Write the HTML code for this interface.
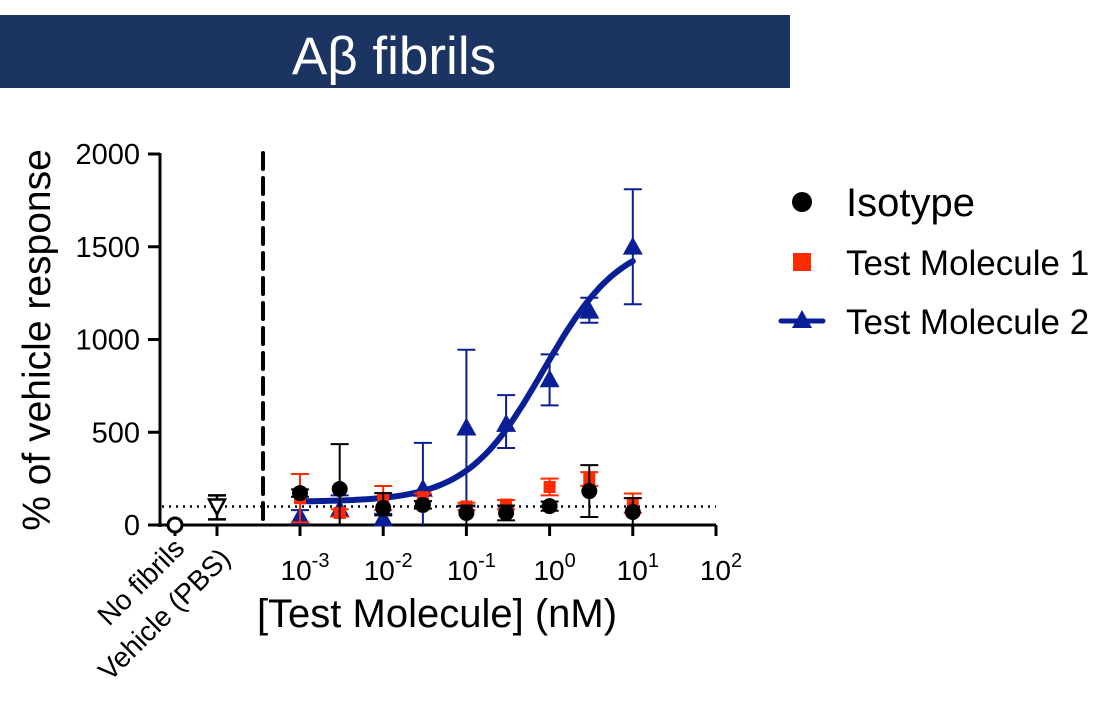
<!DOCTYPE html>
<html><head><meta charset="utf-8"><style>
body{margin:0;background:#fff;}
svg{display:block;font-family:"Liberation Sans",Arial,sans-serif;}
</style></head><body>
<svg id="chart" width="1100" height="702" viewBox="0 0 1100 702" xmlns="http://www.w3.org/2000/svg">
<rect x="0" y="15" width="790" height="73" fill="#1c3461"/>
<text x="394" y="74" font-size="53" fill="#fff" text-anchor="middle">Aβ fibrils</text>
<g id="plot"></g>
<text transform="translate(50,340) rotate(-90)" font-size="39" text-anchor="middle">% of vehicle response</text>
<text x="437" y="627" font-size="40" text-anchor="middle">[Test Molecule] (nM)</text>
<text transform="translate(186,550) rotate(-45)" font-size="28" text-anchor="end">No fibrils</text>
<text transform="translate(232,560) rotate(-45)" font-size="28" text-anchor="end">Vehicle (PBS)</text>
<g>
<circle cx="802" cy="202" r="10" fill="#000"/>
<text x="846" y="216" font-size="40">Isotype</text>
<rect x="793" y="253" width="18" height="18" fill="#ff2a00"/>
<text x="846" y="275" font-size="35">Test Molecule 1</text>
<line x1="781" y1="321" x2="823" y2="321" stroke="#0a1f96" stroke-width="5" stroke-linecap="round"/>
<polygon points="802,310 792,328 812,328" fill="#0a1f96"/>
<text x="846" y="334" font-size="35">Test Molecule 2</text>
</g>
</svg>
<script>
const concentrations=[0.001,0.003,0.01,0.03,0.1,0.3,1,3,10];
const isoMean=[172,194,92,108,65,65,102,183,70];
const isoErrUp=[20,242,80,20,40,40,25,140,75];
const isoErrDn=[20,194,40,20,65,40,25,140,70];
const tm1Mean=[145,65,145,150,100,110,205,248,118];
const tm1Err=[130,20,65,20,20,25,45,37,52];
const tm2Mean=[40,80,30,190,520,540,780,1150,1495];
const tm2ErrUp=[40,80,30,253,425,160,140,75,315];
const tm2ErrDn=[40,80,30,190,420,125,135,60,305];
const fitParams=[125,1550,0.85,0.94]; // bottom, top, EC50, hill
const yTicks=[0,500,1000,1500,2000];
const xTickExp=[-3,-2,-1,0,1,2];
const ctrlCats=["No fibrils","Vehicle (PBS)"];
const ctrlMean=[0,100];
const ctrlErrUp=[0,60];
const ctrlErrDn=[0,70];
const baseline=[100];

const NS="http://www.w3.org/2000/svg";
const g=document.getElementById('plot');
const y=v=>525-v*0.1855;
const x=c=>300+(Math.log10(c)+3)*83.2;
const cx=i=>175+i*42;
function el(t,a,p){const e=document.createElementNS(NS,t);for(const k in a)e.setAttribute(k,a[k]);(p||g).appendChild(e);return e;}

let e=el('line',{x1:160,y1:153,x2:160,y2:527,stroke:'#000','stroke-width':3});


e=el('line',{x1:158,y1:525,x2:716,y2:525,stroke:'#000','stroke-width':3});


yTicks.forEach(v=>{
 let t=el('line',{x1:148,y1:y(v),x2:160,y2:y(v),stroke:'#000','stroke-width':3});
 
 
 let l=el('text',{x:140,y:y(v)+10,'font-size':29,'text-anchor':'end'});l.textContent=v;
 
 
});
xTickExp.forEach(p=>{
 const xx=x(Math.pow(10,p));
 let t=el('line',{x1:xx,y1:525,x2:xx,y2:536,stroke:'#000','stroke-width':3});
 
 
 let l=el('text',{x:xx+5,y:580,'font-size':28,'text-anchor':'middle'});
 
 
 l.innerHTML='10<tspan dy="-13" font-size="20">'+p+'</tspan>';
});
ctrlCats.forEach((c,i)=>{
 let t=el('line',{x1:cx(i),y1:525,x2:cx(i),y2:536,stroke:'#000','stroke-width':3});
 
 
});
e=el('line',{x1:263,y1:153,x2:263,y2:527,stroke:'#000','stroke-width':4,'stroke-dasharray':'16,9','stroke-linecap':'round'});


e=el('line',{x1:162,y1:y(baseline[0]),x2:716,y2:y(baseline[0]),stroke:'#000','stroke-width':2.5,'stroke-dasharray':'2,5'});



function errbar(xx,m,up,dn,col,w,name){
 const gg=el('g',{stroke:col,'stroke-width':w});
 
 
 el('line',{x1:xx,y1:y(m+up),x2:xx,y2:y(Math.max(0,m-dn))},gg);
 if(up>0) el('line',{x1:xx-9,y1:y(m+up),x2:xx+9,y2:y(m+up)},gg);
 if(m-dn>0) el('line',{x1:xx-9,y1:y(m-dn),x2:xx+9,y2:y(m-dn)},gg);
}
errbar(cx(1),ctrlMean[1],ctrlErrUp[1],ctrlErrDn[1],'#000',2.5,'vehicle-error');
e=el('circle',{cx:cx(0),cy:y(ctrlMean[0]),r:7,fill:'#fff',stroke:'#000','stroke-width':3});


{const yy=y(ctrlMean[1]);e=el('polygon',{points:`${cx(1)-8},${yy-7} ${cx(1)+8},${yy-7} ${cx(1)},${yy+8}`,fill:'#fff',stroke:'#000','stroke-width':2.5});

}

concentrations.forEach((c,i)=>errbar(x(c),tm2Mean[i],tm2ErrUp[i],tm2ErrDn[i],'#0a1f96',2,'tm2-error'));
let d='';
for(let k=0;k<=100;k++){const lc=-3+4*k/100,c=Math.pow(10,lc);
 const [b,t,ec,h]=fitParams;const v=b+(t-b)/(1+Math.pow(ec/c,h));
 d+=(k?'L':'M')+x(c).toFixed(1)+','+y(v).toFixed(1);}
e=el('path',{d:d,fill:'none',stroke:'#0a1f96','stroke-width':6,'stroke-linecap':'round'});


concentrations.forEach((c,i)=>{const xx=x(c),yy=y(tm2Mean[i]);
 const p=el('polygon',{points:`${xx},${yy-11} ${xx-10},${yy+7} ${xx+10},${yy+7}`,fill:'#0a1f96'});
 
 });
concentrations.forEach((c,i)=>{errbar(x(c),tm1Mean[i],tm1Err[i],tm1Err[i],'#ff2a00',2,'tm1-error');
 const r=el('rect',{x:x(c)-6,y:y(tm1Mean[i])-6,width:12,height:12,fill:'#ff2a00'});
 
 });
concentrations.forEach((c,i)=>{errbar(x(c),isoMean[i],isoErrUp[i],isoErrDn[i],'#000',2,'isotype-error');
 const ci=el('circle',{cx:x(c),cy:y(isoMean[i]),r:8,fill:'#000'});
 
 });
</script>
</body></html>
